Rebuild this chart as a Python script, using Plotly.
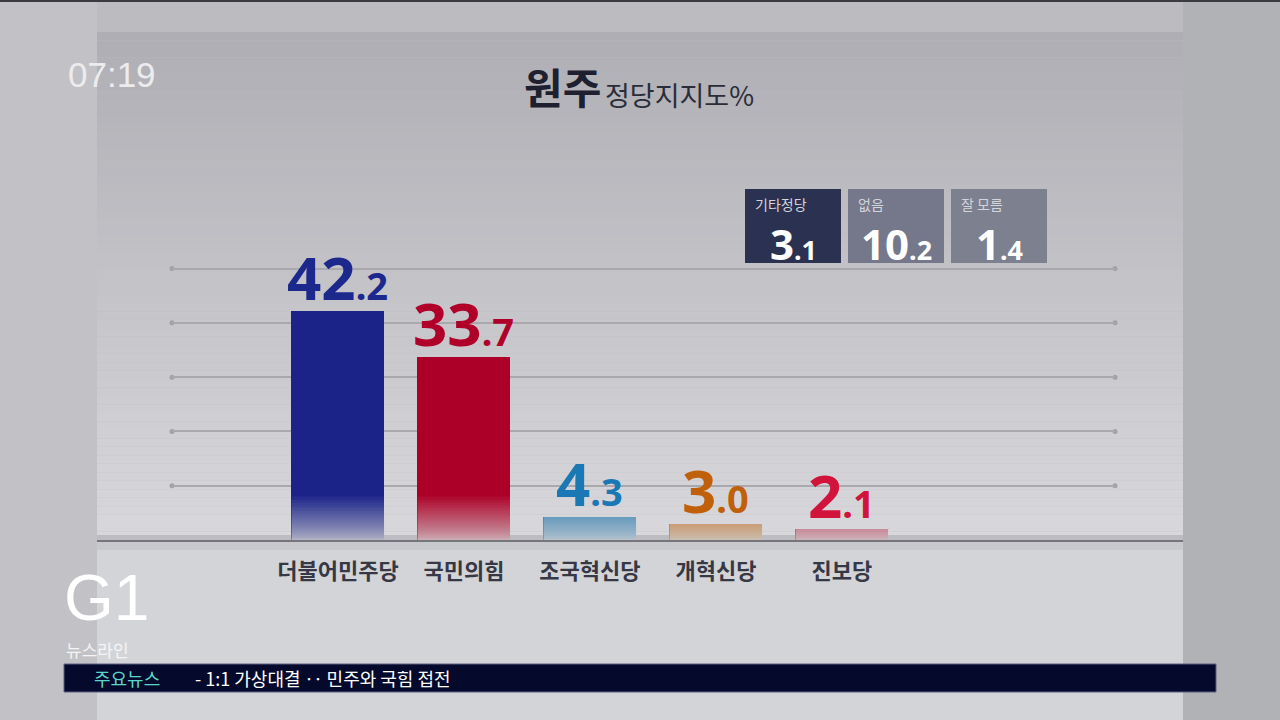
import plotly.graph_objects as go

# ---------------- data ----------------
parties = ["더불어민주당", "국민의힘", "조국혁신당", "개혁신당", "진보당"]
support = [42.2, 33.7, 4.3, 3.0, 2.1]
bar_colors = ["#1b2389", "#ad0029", "#2a7ab5", "#c06a20", "#c8284e"]
label_colors = ["#1c288c", "#b0002a", "#1a78b4", "#c0600a", "#d2143c"]

other_labels = ["기타정당", "없음", "잘 모름"]
other_values = [3.1, 10.2, 1.4]
other_colors = ["#2b3150", "#74788a", "#7d808e"]

grid_vals = [10, 20, 30, 40, 50]
title_main = "원주"
title_sub = "정당지지도%"
clock = "07:19"
logo = "G1"
program = "뉴스라인"
ticker_head = "주요뉴스"
ticker_text = "- 1:1 가상대결 ‥ 민주와 국힘 접전"

W, H = 1280, 720
KR = "Noto Sans CJK KR"
NUM = "Noto Sans"


def px(x):
    return x / W


def py(y):
    return 1 - y / H


def fmt(v, small):
    a, b = f"{v:.1f}".split(".")
    return f"{a}<span style='font-size:{small}px'>.{b}</span>"


def mix(c1, c2, t):
    return "#" + "".join(f"{round(c1[i] + (c2[i] - c1[i]) * t):02x}" for i in range(3))


bar_w = 0.738
x_range = [-1.317, 6.167]

fig = go.Figure()
fig.add_trace(go.Bar(
    x=parties, y=support, width=bar_w,
    marker=dict(color=bar_colors, line=dict(width=0)),
    cliponaxis=False, hoverinfo="skip",
))

annotations = []
# value labels above bars
for p, v, c in zip(parties, support, label_colors):
    annotations.append(dict(xref="x", yref="y", x=p, y=v, text=fmt(v, 38),
                            showarrow=False, xanchor="center", yanchor="bottom", yshift=-9,
                            font=dict(family=NUM, size=60, color=c, weight="bold")))

shapes = []
# screen background pieces
shapes.append(dict(type="rect", xref="paper", yref="paper", x0=0, x1=px(97), y0=0, y1=1,
                   fillcolor="#c2c2c6", line_width=0, layer="below"))
shapes.append(dict(type="rect", xref="paper", yref="paper", x0=px(1183), x1=1, y0=0, y1=1,
                   fillcolor="#b0b2b6", line_width=0, layer="below"))
shapes.append(dict(type="rect", xref="paper", yref="paper", x0=0, x1=1, y0=py(2), y1=1,
                   fillcolor="#3a3a40", line_width=0, layer="below"))
# upper page gradient
n_bands = 60
top_c, bot_c = (174, 174, 180), (216, 216, 220)
for k in range(n_bands):
    y0 = 32 + (540 - 32) * k / n_bands
    y1 = 32 + (540 - 32) * (k + 1) / n_bands
    shapes.append(dict(type="rect", xref="paper", yref="paper", x0=px(97), x1=px(1183),
                       y0=py(y1), y1=py(y0), fillcolor=mix(top_c, bot_c, k / (n_bands - 1)),
                       line_width=0, layer="below"))
# lower page
shapes.append(dict(type="rect", xref="paper", yref="paper", x0=px(97), x1=px(1183),
                   y0=0, y1=py(541), fillcolor="#d3d4d7", line_width=0, layer="below"))
shapes.append(dict(type="rect", xref="paper", yref="paper", x0=px(97), x1=px(1183),
                   y0=py(550), y1=py(541), fillcolor="#c8c9cc", line_width=0, layer="below"))
shapes.append(dict(type="rect", xref="paper", yref="paper", x0=px(97), x1=px(1183),
                   y0=py(540), y1=py(535), fillcolor="#bdbdc1", line_width=0, layer="below"))
# fold line
shapes.append(dict(type="line", xref="paper", yref="paper", x0=px(97), x1=px(1183),
                   y0=py(541), y1=py(541), line=dict(color="#75757b", width=2), layer="above"))

# grid end dots
for v in grid_vals:
    for xd in (0, 1):
        shapes.append(dict(type="circle", xref="x domain", yref="y",
                           xsizemode="pixel", ysizemode="pixel", xanchor=xd, yanchor=v,
                           x0=-2.5, x1=2.5, y0=-2.5, y1=2.5,
                           fillcolor="#a2a2a6", line_width=0, layer="below"))

# fading at bottom of bars
N, a, Hf = 40, 0.055, 8.0
for i, v in enumerate(support):
    for k in range(1, N + 1):
        hk = Hf * (k / N) ** 3
        shapes.append(dict(type="rect", xref="x", yref="y",
                           x0=i - bar_w / 2, x1=i + bar_w / 2, y0=0, y1=min(v, hk),
                           fillcolor="#d6d6da", opacity=a, line_width=0, layer="above"))

# info boxes
box_x = [745, 848, 951]
for bx, lab, val, col in zip(box_x, other_labels, other_values, other_colors):
    shapes.append(dict(type="rect", xref="paper", yref="paper", x0=px(bx), x1=px(bx + 96),
                       y0=py(263), y1=py(189), fillcolor=col, line_width=0, layer="above"))
    annotations.append(dict(xref="paper", yref="paper", x=px(bx + 8), y=py(204), text=lab,
                            showarrow=False, xanchor="left", yanchor="middle",
                            font=dict(family=KR, size=14, color="#d4d4dc")))
    annotations.append(dict(xref="paper", yref="paper", x=px(bx + 48), y=py(243), text=fmt(val, 27),
                            showarrow=False, xanchor="center", yanchor="middle",
                            font=dict(family=NUM, size=42, color="#ffffff", weight="bold")))

# ticker bar
shapes.append(dict(type="rect", xref="paper", yref="paper", x0=px(64), x1=px(1216),
                   y0=py(692), y1=py(664), fillcolor="#050a2c",
                   line=dict(color="#5a5f80", width=1), layer="above"))

annotations += [
    dict(xref="paper", yref="paper", x=px(522), y=py(118), text=f"<b>{title_main}</b>",
         showarrow=False, xanchor="left", yanchor="bottom",
         font=dict(family=KR, size=42, color="#1e2030")),
    dict(xref="paper", yref="paper", x=px(603), y=py(116), text=title_sub,
         showarrow=False, xanchor="left", yanchor="bottom",
         font=dict(family=KR, size=27, color="#2a2c38")),
    dict(xref="paper", yref="paper", x=px(66), y=py(75), text=clock,
         showarrow=False, xanchor="left", yanchor="middle",
         font=dict(family="Liberation Sans", size=35, color="#ececee")),
    dict(xref="paper", yref="paper", x=px(62), y=py(598), text=logo,
         showarrow=False, xanchor="left", yanchor="middle",
         font=dict(family="Liberation Sans Narrow, Liberation Sans", size=64, color="#ffffff")),
    dict(xref="paper", yref="paper", x=px(64), y=py(649), text=program,
         showarrow=False, xanchor="left", yanchor="middle",
         font=dict(family=KR, size=17, color="#f4f4f6")),
    dict(xref="paper", yref="paper", x=px(92), y=py(678), text=ticker_head,
         showarrow=False, xanchor="left", yanchor="middle",
         font=dict(family=KR, size=18, color="#5cd6c8")),
    dict(xref="paper", yref="paper", x=px(193), y=py(678), text=ticker_text,
         showarrow=False, xanchor="left", yanchor="middle",
         font=dict(family=KR, size=18, color="#ffffff")),
]

fig.update_layout(
    width=W, height=H, margin=dict(l=0, r=0, t=0, b=0),
    paper_bgcolor="#bcbcc0", plot_bgcolor="rgba(0,0,0,0)",
    showlegend=False, shapes=shapes, annotations=annotations,
    xaxis=dict(domain=[px(172), px(1115)], type="category", range=x_range,
               showgrid=False, zeroline=False, showline=False, ticks="",
               tickfont=dict(family=KR, size=22, color="#363845", weight="bold"),
               ticklabelstandoff=16, fixedrange=True),
    yaxis=dict(domain=[py(540), py(160)], range=[0, 70], tickvals=grid_vals,
               showticklabels=False, showgrid=True, gridcolor="#a9a9ad", gridwidth=1.5,
               zeroline=False, showline=False, fixedrange=True),
    bargap=0,
)

fig.write_html(
    "out.html",
    config={"displayModeBar": False},
    post_script="document.body.style.margin='0';document.body.style.overflow='hidden';",
)
